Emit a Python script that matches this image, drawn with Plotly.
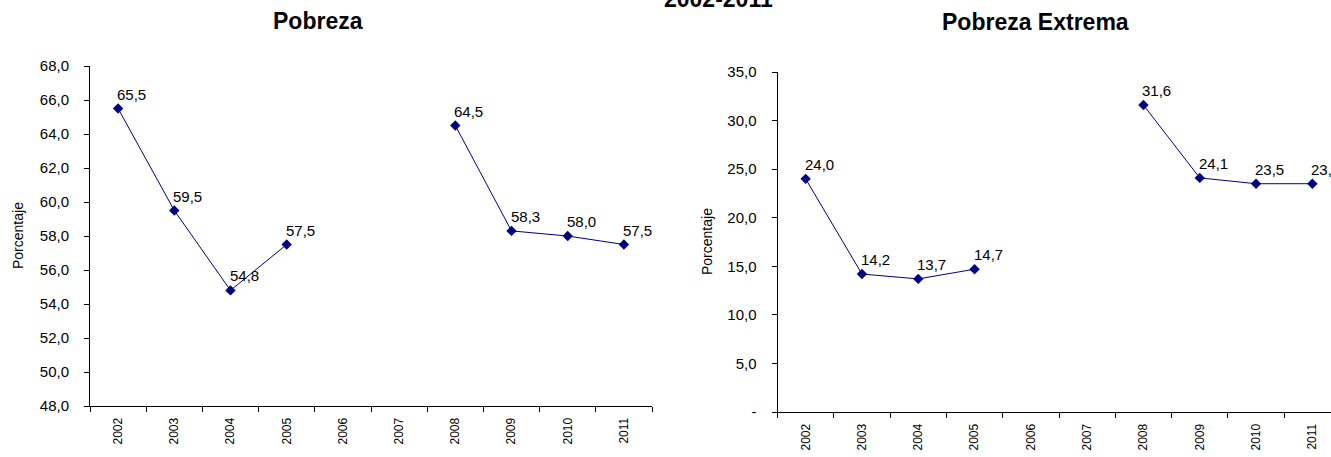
import plotly.graph_objects as go

years = ["2002", "2003", "2004", "2005", "2006", "2007", "2008", "2009", "2010", "2011"]
pobreza = [65.5, 59.5, 54.8, 57.5, None, None, 64.5, 58.3, 58.0, 57.5]
pobreza_extrema = [24.0, 14.2, 13.7, 14.7, None, None, 31.6, 24.1, 23.5, 23.5]

left_ticks = [48, 50, 52, 54, 56, 58, 60, 62, 64, 66, 68]
right_ticks = [0, 5, 10, 15, 20, 25, 30, 35]
right_ticktext = ["-", "5,0", "10,0", "15,0", "20,0", "25,0", "30,0", "35,0"]

W, H = 1331, 457
FONT = "Liberation Sans, Arial, sans-serif"
NAVY = "#000080"


def fmt(v):
    return f"{v:.1f}".replace(".", ",")


def px_x(p):
    return p / W


def px_y(p):
    return 1 - p / H


fig = go.Figure()
for vals, xa, ya in [(pobreza, "x", "y"), (pobreza_extrema, "x2", "y2")]:
    fig.add_trace(go.Scatter(
        x=years, y=vals, mode="lines+markers",
        line=dict(color=NAVY, width=1), marker=dict(symbol="diamond", size=8, color=NAVY),
        connectgaps=False, xaxis=xa, yaxis=ya, showlegend=False, cliponaxis=False,
        hoverinfo="skip"))

annotations = []
for vals, xa, ya in [(pobreza, "x", "y"), (pobreza_extrema, "x2", "y2")]:
    for i, v in enumerate(vals):
        if v is None:
            continue
        annotations.append(dict(
            text=fmt(v), x=i, y=v, xref=xa, yref=ya, xanchor="left", yanchor="bottom",
            xshift=-3, yshift=4, showarrow=False,
            font=dict(family=FONT, size=15, color="black")))

common_x = dict(type="category", tickson="boundaries", ticks="outside", ticklen=5,
                tickcolor="black", showline=True, linecolor="black", linewidth=1,
                showgrid=False, zeroline=False, tickangle=-90, ticklabelstandoff=6,
                tickfont=dict(family=FONT, size=12, color="black"), automargin=False)
common_y = dict(ticks="outside", ticklen=5, tickcolor="black", showline=True,
                linecolor="black", linewidth=1, showgrid=False, zeroline=False,
                ticklabelstandoff=12,
                tickfont=dict(family=FONT, size=15, color="black"), automargin=False)

annotations += [
    dict(text="<b>2002-2011</b>", x=px_x(718), y=px_y(14), xref="paper", yref="paper",
         xanchor="center", yanchor="bottom", showarrow=False,
         font=dict(family=FONT, size=23, color="black")),
    dict(text="<b>Pobreza</b>", x=px_x(317.5), y=px_y(21), xref="paper", yref="paper",
         xanchor="center", yanchor="middle", showarrow=False,
         font=dict(family=FONT, size=23, color="black")),
    dict(text="<b>Pobreza Extrema</b>", x=px_x(1035.5), y=px_y(22), xref="paper", yref="paper",
         xanchor="center", yanchor="middle", showarrow=False,
         font=dict(family=FONT, size=23, color="black")),
    dict(text="Porcentaje", x=px_x(18), y=px_y(236), xref="paper", yref="paper",
         xanchor="center", yanchor="middle", textangle=-90, showarrow=False,
         font=dict(family=FONT, size=14, color="black")),
    dict(text="Porcentaje", x=px_x(707), y=px_y(242), xref="paper", yref="paper",
         xanchor="center", yanchor="middle", textangle=-90, showarrow=False,
         font=dict(family=FONT, size=14, color="black")),
]

fig.update_layout(
    width=W, height=H,
    margin=dict(l=0, r=0, t=0, b=0),
    paper_bgcolor="white", plot_bgcolor="white",
    separators=",.",
    hovermode=False,
    xaxis=dict(domain=[px_x(90), px_x(652)], anchor="y", range=[-0.5, 9.5], **common_x),
    yaxis=dict(domain=[px_y(406), px_y(66)], anchor="x", range=[48, 68],
               tickvals=left_ticks, tickformat=".1f", **common_y),
    xaxis2=dict(domain=[px_x(777.5), 1.0], anchor="y2",
                range=[-0.5, -0.5 + (W - 777.5) / 56.3], **common_x),
    yaxis2=dict(domain=[px_y(412), px_y(72)], anchor="x2", range=[0, 35],
                tickvals=right_ticks, ticktext=right_ticktext, **common_y),
    annotations=annotations,
)

fig.write_html("out.html", config={"displayModeBar": False},
               post_script="document.body.style.margin='0';document.body.style.overflow='hidden';")
